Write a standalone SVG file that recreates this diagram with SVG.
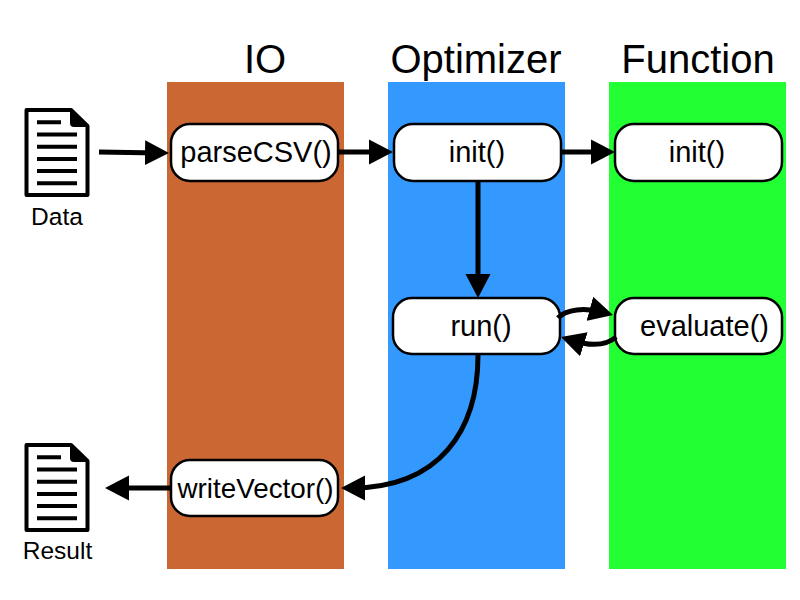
<svg xmlns="http://www.w3.org/2000/svg" width="800" height="600" viewBox="0 0 800 600">
<style>
text{font-family:"Liberation Sans",Arial,sans-serif;fill:#000;text-anchor:middle}
.h{font-size:40px}
.n{font-size:29px}
.w{font-size:27.800px}
.s{font-size:24.500px}
.box{fill:#fff;stroke:#000;stroke-width:2.500}
.c{fill:none;stroke:#000;stroke-width:5}
.d{fill:#fff;stroke:#000;stroke-width:4;stroke-linejoin:round}
.l{stroke:#000;stroke-width:4;fill:none}
</style>
<defs>
<marker id="a" markerUnits="userSpaceOnUse" markerWidth="26" markerHeight="26" refX="14" refY="13" orient="auto"><path d="M0 0.500L24 13L0 25.500Z" fill="#000"/></marker>
<g id="doc">
<path class="d" d="M26.500 110H71L87.500 126V195H26.500Z"/>
<path d="M70 109L88 126V127H74Q70 127 70 123Z" fill="#000"/>
<path class="l" d="M37 122.300H61M37 134.500H77M37 146.700H77M37 159H77M37 171H77M37 183.300H77"/>
</g>
</defs>
<g id="lanes">
<rect x="167" y="82" width="177" height="487" fill="#cb6733"/>
<rect x="388" y="82" width="177" height="487" fill="#3399ff"/>
<rect x="609" y="82" width="177" height="487" fill="#22ff33"/>
<text class="h" x="265" y="73">IO</text>
<text class="h" x="476" y="73">Optimizer</text>
<text class="h" x="698" y="73">Function</text>
</g>
<g id="nodes">
<g id="data"><use href="#doc"/><text class="s" x="57" y="225">Data</text></g>
<g id="result"><use href="#doc" transform="translate(0,335)"/><text class="s" x="57.500" y="559">Result</text></g>
<g id="parseCSV"><rect class="box" x="171" y="124" width="167" height="57" rx="19"/><text class="n" x="256" y="162">parseCSV()</text></g>
<g id="init1"><rect class="box" x="394" y="124" width="167" height="57" rx="19"/><text class="n" x="477" y="162">init()</text></g>
<g id="init2"><rect class="box" x="615" y="124" width="167" height="57" rx="19"/><text class="n" x="697" y="162">init()</text></g>
<g id="run"><rect class="box" x="393" y="298" width="167" height="56" rx="19"/><text class="n" x="481" y="336">run()</text></g>
<g id="evaluate"><rect class="box" x="615" y="298" width="167" height="56" rx="19"/><text class="n" x="704.500" y="336">evaluate()</text></g>
<g id="writeVector"><rect class="box" x="171" y="460" width="167" height="56" rx="19"/><text class="w" x="255.500" y="498">writeVector()</text></g>
</g>
<g id="connectors">
<path class="c" d="M99 152L159 152.900" marker-end="url(#a)"/>
<path class="c" d="M338 152H383" marker-end="url(#a)"/>
<path class="c" d="M561 152H605" marker-end="url(#a)"/>
<path class="c" d="M478 182V288" marker-end="url(#a)"/>
<path class="c" d="M558 318C566 309 585 307.400 603.400 312.400" marker-end="url(#a)"/>
<path class="c" d="M616 337C606 346 590 346.200 570.500 340" marker-end="url(#a)"/>
<path class="c" d="M478 355C478 430 440 488 351 488" marker-end="url(#a)"/>
<path class="c" d="M171 488H115" marker-end="url(#a)"/>
</g>
</svg>
